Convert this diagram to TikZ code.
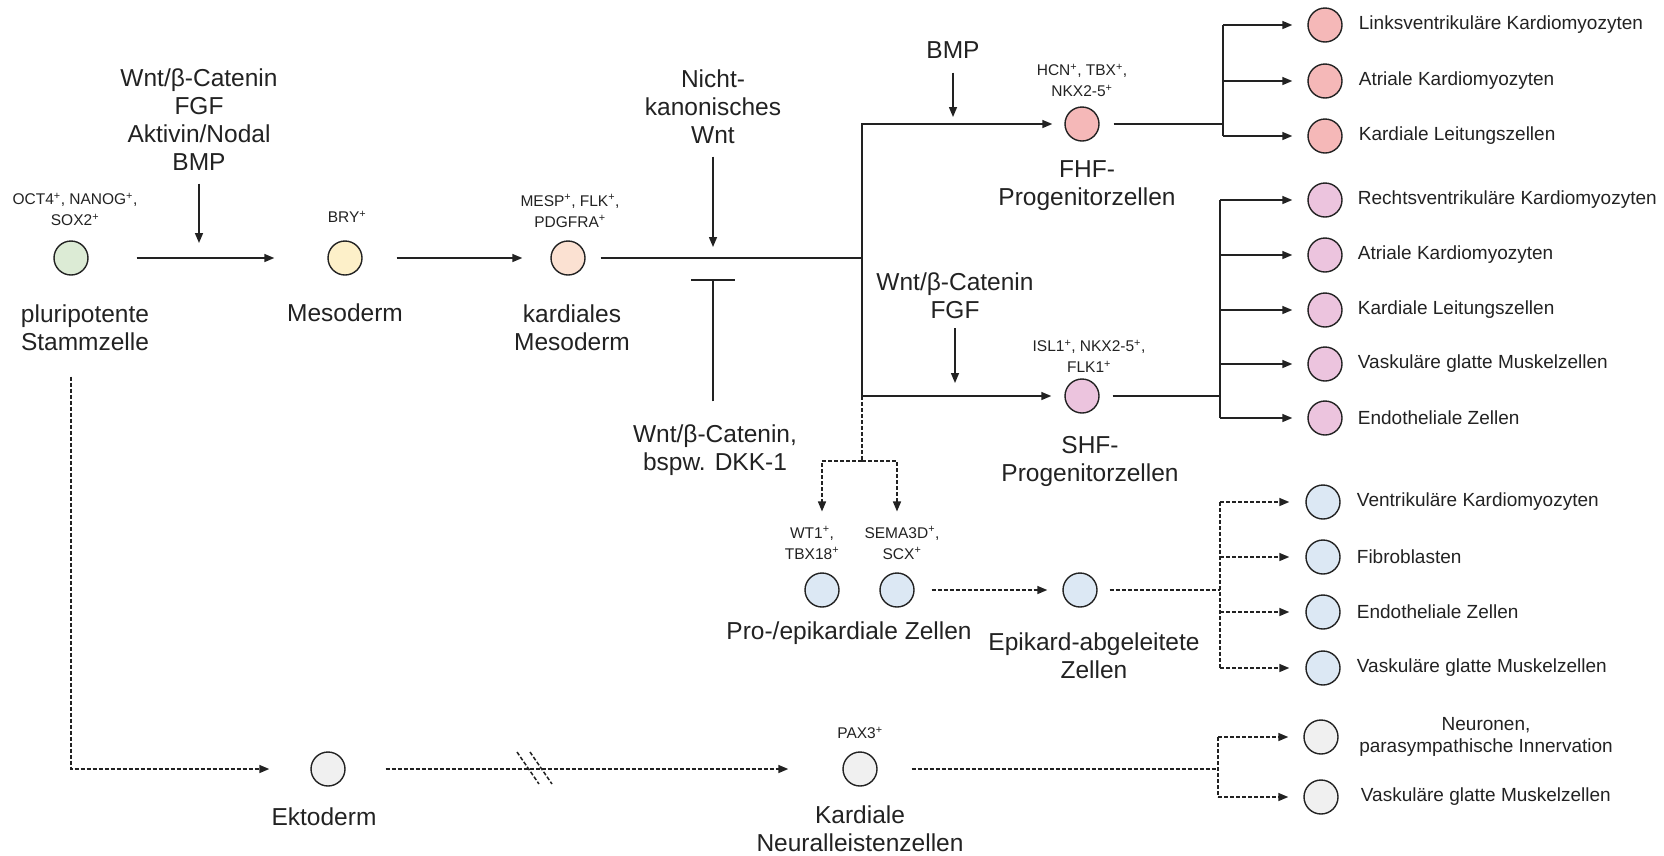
\documentclass[tikz,border=0pt]{standalone}
\usepackage{fontspec}
\setmainfont{Liberation Sans}
\usepackage{tikz}
\usetikzlibrary{arrows.meta,positioning}
\definecolor{cellgreen}{HTML}{DCEBD5}
\definecolor{cellyellow}{HTML}{FDF0C9}
\definecolor{cellpeach}{HTML}{FBE1D2}
\definecolor{cellsalmon}{HTML}{F5B8B8}
\definecolor{cellpink}{HTML}{ECC4DE}
\definecolor{cellblue}{HTML}{DCE8F4}
\definecolor{cellgray}{HTML}{F0F0F0}
\definecolor{inkgray}{HTML}{222222}
\newcommand\posm{\textsuperscript{+}}
\tikzset{
  cell/.style={circle, draw=inkgray, line width=1.4pt, minimum size=34pt, inner sep=0pt},
  marker/.style={font=\fontsize{15.5}{21}\selectfont, align=center, inner sep=0pt, text=inkgray},
  big/.style={font=\fontsize{24.5}{28}\selectfont, align=center, inner sep=0pt, text=inkgray},
  fate/.style={font=\fontsize{19}{22}\selectfont, align=center, inner sep=0pt, text=inkgray},
  conn/.style={line width=1.5pt, draw=inkgray},
  arrow/.style={conn, -{Triangle[length=10pt,width=8pt]}},
  dashline/.style={conn, dash pattern=on 4pt off 2pt},
  dasharrow/.style={arrow, dash pattern=on 4pt off 2pt}
}

\begin{document}
\begin{tikzpicture}[x=1pt,y=-1pt]
  \useasboundingbox (0,0) rectangle (1664,855);

  % main line of cells
  \node[cell, fill=cellgreen] (ps) at (71,258) {};
  \node[cell, fill=cellyellow] (me) at (345,258) {};
  \node[cell, fill=cellpeach] (km) at (568,258) {};
  \node[cell, fill=cellsalmon] (fhf) at (1082,124) {};
  \node[cell, fill=cellpink] (shf) at (1082,396) {};
  \node[cell, fill=cellblue] (wt) at (822,590) {};
  \node[cell, fill=cellblue] (sema) at (897,590) {};
  \node[cell, fill=cellblue] (epi) at (1080,590) {};
  \node[cell, fill=cellgray] (ekto) at (328,769) {};
  \node[cell, fill=cellgray] (ncc) at (860,769) {};

  % markers
  \node[marker] (psm) at (75,209.5) {OCT4\posm, NANOG\posm,\\SOX2\posm};
  \node[marker] (mem) at (347,217) {BRY\posm};
  \node[marker] (kmm) at (570,211) {MESP\posm, FLK\posm,\\PDGFRA\posm};
  \node[marker] (fhfm) at (1082,80.5) {HCN\posm, TBX\posm,\\NKX2-5\posm};
  \node[marker] (shfm) at (1089,356) {ISL1\posm, NKX2-5\posm,\\FLK1\posm};
  \node[marker] (wtm) at (812,543) {WT1\posm,\\TBX18\posm};
  \node[marker] (semam) at (902,543) {SEMA3D\posm,\\SCX\posm};
  \node[marker] (nccm) at (860,733) {PAX3\posm};

  % names
  \node[big] (psl) at (85,327.5) {pluripotente\\Stammzelle};
  \node[big] (mel) at (345,313) {Mesoderm};
  \node[big] (kml) at (572,327.5) {kardiales\\Mesoderm};
  \node[big] (fhfl) at (1087,186) {FHF-\\Progenitorzellen};
  \node[big] (shfl) at (1090,461) {SHF-\\Progenitorzellen};
  \node[big] (epil) at (849,633) {Pro-/epikardiale Zellen};
  \node[big] (epdl) at (1094,656) {Epikard-abgeleitete\\Zellen};
  \node[big] (ektl) at (324,817) {Ektoderm};
  \node[big] (nccl) at (860,829) {Kardiale\\Neuralleistenzellen};

  % signals
  \node[big] (sig) at (199,119.5) {Wnt/β-Catenin\\FGF\\Aktivin/Nodal\\BMP};
  \node[big] (nkw) at (713,106.5) {Nicht-\\kanonisches\\Wnt};
  \node[big] (inh) at (715,450) {Wnt/β-Catenin,\\bspw. DKK-1};
  \node[big] (bmp) at (953,50) {BMP};
  \node[big] (wfg) at (955,296) {Wnt/β-Catenin\\FGF};

  \coordinate (J) at (862,258);
  \coordinate (Jd) at (862,461);
  \coordinate (bar) at (713,279);
  \coordinate (fb) at (1223,124);
  \coordinate (sb) at (1220,396);
  \coordinate (eb) at (1220,590);
  \coordinate (nb) at (1218,769);
  \coordinate (brk) at (528,768);

  \draw[arrow, shorten <=48pt, shorten >=53pt] (ps) -- (me);
  \draw[arrow, shorten <=13pt, shorten >=15pt] (sig) -- (sig |- ps);
  \draw[arrow, shorten <=34pt, shorten >=28pt] (me) -- (km);
  \draw[conn, shorten <=15pt] (km) -- (J);
  \draw[arrow, shorten <=13pt, shorten >=11pt] (nkw) -- (nkw |- J);
  \draw[conn, -{Bar[width=44pt]}, shorten <=23pt] (inh.north -| bar) -- (bar);
  \draw[arrow, shorten >=12pt] (J) |- (fhf);
  \draw[arrow, shorten >=13pt] (J) |- (shf);
  \draw[arrow, shorten <=14pt, shorten >=7pt] (bmp) -- (bmp |- fhf);
  \draw[arrow, shorten <=9pt, shorten >=13pt] (wfg) -- (wfg |- shf);

  % epicardial branch
  \draw[dashline] (J |- shf) -- (Jd);
  \draw[dasharrow, shorten >=15pt] (Jd) -| (wtm.north -| wt);
  \draw[dasharrow, shorten >=15pt] (Jd) -| (semam.north -| sema);
  \draw[dasharrow, shorten <=17pt, shorten >=15pt] (sema) -- (epi);
  \draw[dashline, shorten <=12pt] (epi) -- (eb);

  % ectoderm branch
  \draw[dasharrow, shorten <=26pt, shorten >=41pt] (ps |- psl.south) |- (ekto);
  \draw[dasharrow, shorten <=40pt, shorten >=54pt] (ekto) -- (ncc);
  \foreach \dx in {0,13}
    \draw[dashline] ([xshift=\dx pt]brk) +(-11,-16) -- +(11,16);
  \draw[dashline, shorten <=34pt] (ncc) -- (nb);

  % FHF fates
  \draw[conn, shorten <=14pt] (fhf) -- (fb);
  \foreach \y/\t [count=\i] in {25/Linksventrikuläre Kardiomyozyten, 81/Atriale Kardiomyozyten, 136/Kardiale Leitungszellen}{
    \node[cell, fill=cellsalmon] (f\i) at (1325,\y) {};
    \node[fate, right=16pt of f\i] (fl\i) {\t};
    \draw[arrow, shorten >=15pt] (fb |- f\i) -- (f\i);
  }
  \draw[conn] (fb |- f1) -- (fb |- f3);

  % SHF fates
  \draw[conn, shorten <=13pt] (shf) -- (sb);
  \foreach \y/\t [count=\i] in {200/Rechtsventrikuläre Kardiomyozyten, 255/Atriale Kardiomyozyten, 310/Kardiale Leitungszellen, 364/Vaskuläre glatte Muskelzellen, 418/Endotheliale Zellen}{
    \node[cell, fill=cellpink] (s\i) at (1325,\y) {};
    \node[fate, right=15pt of s\i] (sl\i) {\t};
    \draw[arrow, shorten >=15pt] (sb |- s\i) -- (s\i);
  }
  \draw[conn] (sb |- s1) -- (sb |- s5);

  % epicard-derived fates
  \foreach \y/\t [count=\i] in {502/Ventrikuläre Kardiomyozyten, 557/Fibroblasten, 612/Endotheliale Zellen, 668/Vaskuläre glatte Muskelzellen}{
    \node[cell, fill=cellblue] (e\i) at (1323,\y) {};
    \node[fate, right=16pt of e\i] (el\i) {\t};
    \draw[dasharrow, shorten >=16pt] (eb |- e\i) -- (e\i);
  }
  \draw[dashline] (eb |- e1) -- (eb |- e4);

  % neural crest fates
  \node[cell, fill=cellgray] (n1) at (1321,737) {};
  \node[cell, fill=cellgray] (n2) at (1321,797) {};
  \node[fate] (nl1) at (1486,737) {Neuronen,\\parasympathische Innervation};
  \node[fate, right=22pt of n2] (nl2) {Vaskuläre glatte Muskelzellen};
  \draw[dasharrow, shorten >=15pt] (nb |- n1) -- (n1);
  \draw[dasharrow, shorten >=15pt] (nb |- n2) -- (n2);
  \draw[dashline] (nb |- n1) -- (nb |- n2);
\end{tikzpicture}
\end{document}
